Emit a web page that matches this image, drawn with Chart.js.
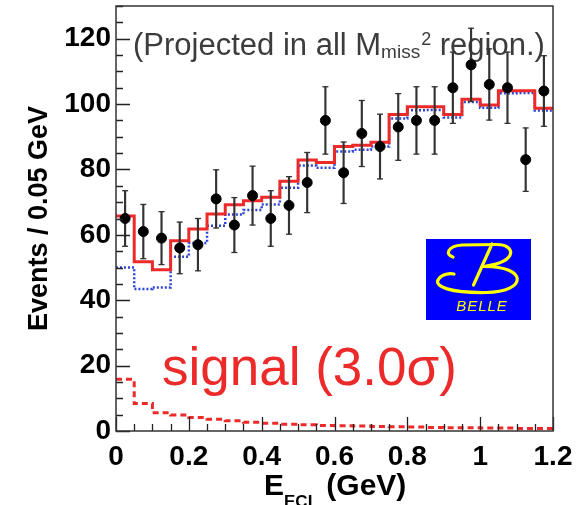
<!DOCTYPE html>
<html>
<head>
<meta charset="utf-8">
<script src="https://cdn.jsdelivr.net/npm/chart.js@4.4.1/dist/chart.umd.min.js"></script>
<style>
  html, body { margin: 0; padding: 0; background: #fff; }
  #wrap { width: 579px; height: 505px; }
</style>
</head>
<body>
<div id="wrap"><canvas id="eecl"></canvas></div>
<script>
// E_ECL bins (GeV), 0.05 GeV wide
const binCenters = [0.025, 0.075, 0.125, 0.175, 0.225, 0.275, 0.325, 0.375, 0.425, 0.475, 0.525, 0.575,
                    0.625, 0.675, 0.725, 0.775, 0.825, 0.875, 0.925, 0.975, 1.025, 1.075, 1.125, 1.175];
const dataCounts = [65, 61, 59, 56, 57, 71, 63, 72, 65, 69, 76, 95, 79, 91, 87, 93, 95, 95, 105, 112, 106, 105, 83, 104];
const dataErrors = [8.5, 8.3, 8.1, 7.9, 8.0, 8.9, 8.4, 9.0, 8.5, 8.8, 9.2, 10.3, 9.4, 10.1, 9.9, 10.2, 10.3, 10.3, 10.9, 11.2, 10.9, 10.9, 9.7, 10.8];
const totalFit = [65.8, 51.8, 49.3, 58.2, 61.8, 66.4, 69.2, 70.4, 71.5, 76.4, 82.9, 82.1, 87.0, 87.4, 88.3, 96.8, 99.2, 99.2, 96.8, 101.5, 99.7, 104.1, 104.1, 98.7];
const backgroundFit = [50.0, 43.4, 43.9, 53.3, 57.5, 62.8, 66.2, 67.6, 69.3, 74.4, 81.2, 80.5, 85.5, 86.0, 87.0, 95.6, 98.1, 98.2, 95.9, 100.6, 98.9, 103.3, 103.4, 98.0];
const signalFit = [15.8, 8.4, 5.6, 4.9, 4.1, 3.6, 3.1, 2.7, 2.4, 2.1, 1.9, 1.7, 1.6, 1.5, 1.4, 1.3, 1.2, 1.1, 1.0, 1.0, 0.9, 0.9, 0.8, 0.8];
const xTicks = [0, 0.2, 0.4, 0.6, 0.8, 1, 1.2];
const yTicks = [0, 20, 40, 60, 80, 100, 120];
const xMinorStep = 0.05;
const yMinorStep = 5;

const binWidth = 0.05;
const FONT = "'Liberation Sans', Arial, Helvetica, sans-serif";
const RED = '#ec2a2a';
const BLUE = '#2b44d6';

function steps(vals) {
  const pts = vals.map((v, i) => ({x: binCenters[i] - binWidth / 2, y: v}));
  pts.push({x: binCenters[binCenters.length - 1] + binWidth / 2, y: vals[vals.length - 1]});
  return pts;
}

const points = binCenters.map((x, i) => ({x: x, y: dataCounts[i]}));
const errBars = binCenters.map((x, i) => ({x: x, y: [dataCounts[i] - dataErrors[i], dataCounts[i] + dataErrors[i]]}));
const errCaps = [];
binCenters.forEach((x, i) => {
  errCaps.push({x: x, y: dataCounts[i] - dataErrors[i]});
  errCaps.push({x: x, y: dataCounts[i] + dataErrors[i]});
});

// frame, inner ticks, annotations and the Belle logo
const decorations = {
  id: 'decorations',
  beforeDatasetsDraw(chart) {
    const ctx = chart.ctx;
    const a = chart.chartArea;
    ctx.save();
    // top note
    ctx.fillStyle = '#3c3c3c';
    ctx.textBaseline = 'alphabetic';
    ctx.textAlign = 'left';
    let x = a.left + 17;
    const y = 55;
    ctx.font = '31px ' + FONT;
    const t1 = '(Projected in all M';
    ctx.fillText(t1, x, y);
    x += ctx.measureText(t1).width;
    ctx.font = '19px ' + FONT;
    ctx.fillText('miss', x, y + 3);
    x += ctx.measureText('miss').width + 1;
    ctx.font = '18px ' + FONT;
    ctx.fillText('2', x, y - 10);
    x += ctx.measureText('2').width;
    ctx.font = '31px ' + FONT;
    ctx.fillText(' region.)', x, y);
    // signal label
    ctx.fillStyle = RED;
    ctx.font = '53px ' + FONT;
    ctx.fillText('signal (3.0\u03c3)', a.left + 46, 385);
    ctx.restore();
  },
  afterDatasetsDraw(chart) {
    const ctx = chart.ctx;
    const a = chart.chartArea;
    const xs = chart.scales.x;
    const ys = chart.scales.y;
    ctx.save();
    ctx.strokeStyle = '#222';
    ctx.lineWidth = 1.3;
    ctx.beginPath();
    for (let v = 0; v <= xs.max + 1e-9; v += xMinorStep) {
      const px = Math.round(xs.getPixelForValue(v)) + 0.5;
      const major = xTicks.some(t => Math.abs(t - v) < 1e-6);
      ctx.moveTo(px, a.bottom);
      ctx.lineTo(px, a.bottom - (major ? 14 : 7));
    }
    for (let v = 0; v <= ys.max + 1e-9; v += yMinorStep) {
      const py = Math.round(ys.getPixelForValue(v)) + 0.5;
      const major = yTicks.includes(v);
      ctx.moveTo(a.left, py);
      ctx.lineTo(a.left + (major ? 14 : 7), py);
    }
    ctx.stroke();
    ctx.lineWidth = 1.5;
    ctx.strokeStyle = '#333';
    ctx.strokeRect(a.left, a.top, a.right - a.left, a.bottom - a.top);

    // x axis title with subscript
    ctx.fillStyle = '#000';
    ctx.textBaseline = 'alphabetic';
    ctx.textAlign = 'left';
    let tx = 264;
    ctx.font = 'bold 30px ' + FONT;
    ctx.fillText('E', tx, 495);
    tx += ctx.measureText('E').width;
    ctx.font = 'bold 17px ' + FONT;
    ctx.fillText('ECL', tx, 507);
    tx += ctx.measureText('ECL').width;
    ctx.font = 'bold 30px ' + FONT;
    ctx.fillText(' (GeV)', tx, 495);

    // Belle logo
    const lx = 426, ly = 239, lw = 105, lh = 81;
    ctx.fillStyle = '#0000ff';
    ctx.fillRect(lx, ly, lw, lh);
    ctx.translate(lx, ly);
    ctx.strokeStyle = '#ffff00';
    ctx.lineWidth = 3.2;
    ctx.lineCap = 'round';
    ctx.beginPath();
    ctx.moveTo(27, 18);
    ctx.bezierCurveTo(19, 16, 21, 7, 36, 6);
    ctx.lineTo(70, 5.5);
    ctx.bezierCurveTo(90, 5, 92, 23, 60, 27);
    ctx.moveTo(58, 27.5);
    ctx.bezierCurveTo(102, 27, 102, 53, 60, 53.5);
    ctx.bezierCurveTo(26, 54, 6, 48, 13, 39.5);
    ctx.bezierCurveTo(16, 35, 24, 34, 28, 35);
    ctx.moveTo(66, 5);
    ctx.lineTo(47.5, 46);
    ctx.stroke();
    ctx.fillStyle = '#ffff00';
    ctx.font = 'italic 15px ' + FONT;
    ctx.textAlign = 'center';
    if ('letterSpacing' in ctx) ctx.letterSpacing = '1px';
    ctx.fillText('BELLE', 56, 72);
    ctx.restore();
  }
};

Chart.defaults.color = '#000';
Chart.defaults.font.family = FONT;

new Chart(document.getElementById('eecl'), {
  type: 'scatter',
  data: {
    datasets: [
      {
        type: 'scatter',
        label: 'data',
        data: points,
        backgroundColor: '#000',
        borderColor: '#000',
        pointRadius: 5,
        order: 0
      },
      {
        type: 'scatter',
        label: 'caps',
        data: errCaps,
        pointStyle: 'line',
        pointRadius: 3,
        borderColor: '#333',
        borderWidth: 1.3,
        order: 1
      },
      {
        type: 'bar',
        label: 'errors',
        data: errBars,
        backgroundColor: '#333',
        barThickness: 1.5,
        grouped: false,
        order: 2
      },
      {
        type: 'line',
        label: 'total',
        data: steps(totalFit),
        stepped: 'before',
        borderColor: RED,
        borderWidth: 3,
        pointRadius: 0,
        fill: false,
        order: 3
      },
      {
        type: 'line',
        label: 'background',
        data: steps(backgroundFit),
        stepped: 'before',
        borderColor: BLUE,
        borderWidth: 2.5,
        borderDash: [2, 2],
        pointRadius: 0,
        fill: false,
        order: 4
      },
      {
        type: 'line',
        label: 'signal',
        data: steps(signalFit),
        stepped: 'before',
        borderColor: RED,
        borderWidth: 3,
        borderDash: [6, 4],
        pointRadius: 0,
        fill: false,
        order: 5
      }
    ]
  },
  options: {
    responsive: true,
    maintainAspectRatio: false,
    animation: false,
    layout: { padding: { left: 0, right: 26, top: 6, bottom: 0 } },
    plugins: { legend: { display: false }, tooltip: { enabled: false } },
    scales: {
      x: {
        type: 'linear',
        min: 0,
        max: 1.2,
        offset: false,
        grid: { display: false, drawTicks: false },
        border: { display: false },
        afterBuildTicks: s => { s.ticks = xTicks.map(v => ({value: v})); },
        afterFit: s => { s.height = 74; s.paddingLeft = 0; s.paddingRight = 0; },
        ticks: {
          padding: 9,
          font: { size: 28, weight: 'bold' },
          maxRotation: 0,
          callback: v => String(v)
        }
      },
      y: {
        type: 'linear',
        min: 0,
        max: 130,
        grid: { display: false, drawTicks: false },
        border: { display: false },
        afterBuildTicks: s => { s.ticks = yTicks.map(v => ({value: v})); },
        afterFit: s => { s.width = 116; s.paddingTop = 0; s.paddingBottom = 0; },
        title: {
          display: true,
          text: 'Events / 0.05 GeV',
          font: { size: 27, weight: 'bold' },
          padding: { top: 23, bottom: 0 }
        },
        ticks: {
          padding: 5,
          font: { size: 28, weight: 'bold' },
          callback: v => String(v)
        }
      }
    }
  },
  plugins: [decorations]
});
</script>
</body>
</html>
